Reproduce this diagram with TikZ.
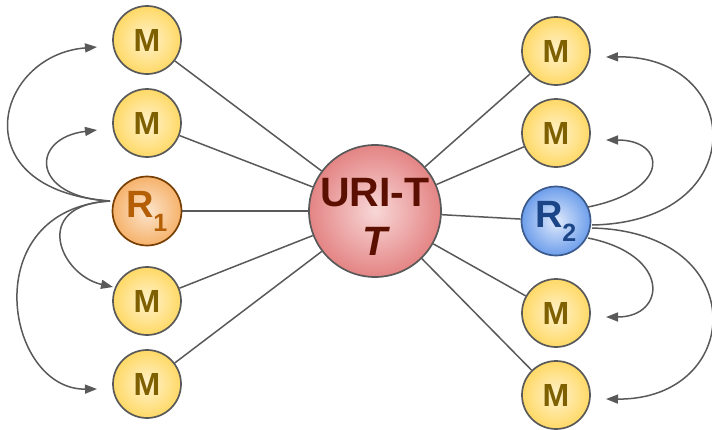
\documentclass[tikz,border=0pt]{standalone}
\usepackage{fontspec}
\setmainfont{Liberation Sans}
\usetikzlibrary{arrows.meta,shadings}
\definecolor{lineg}{HTML}{595959}
\definecolor{mtext}{HTML}{7F6000}
\definecolor{rone}{HTML}{B45F06}
\definecolor{ronebd}{HTML}{783F04}
\definecolor{rtwo}{HTML}{1C4587}
\definecolor{rtwobd}{HTML}{3C5A8C}
\definecolor{ctext}{HTML}{5B0F00}
\tikzset{
  mnode/.style={circle, minimum size=68pt, inner sep=0pt, draw=lineg, line width=1.7pt,
    inner color={rgb,255:red,255;green,242;blue,204}, outer color={rgb,255:red,255;green,217;blue,102},
    text=mtext, font=\bfseries\fontsize{32}{32}\selectfont},
  ronenode/.style={circle, minimum size=69pt, inner sep=0pt, draw=ronebd, line width=1.7pt,
    inner color={rgb,255:red,252;green,229;blue,205}, outer color={rgb,255:red,246;green,178;blue,107},
    text=rone, font=\bfseries\fontsize{38}{40}\selectfont},
  rtwonode/.style={circle, minimum size=69pt, inner sep=0pt, draw=rtwobd, line width=1.7pt,
    inner color={rgb,255:red,224;green,234;blue,252}, outer color={rgb,255:red,109;green,158;blue,235},
    text=rtwo, font=\bfseries\fontsize{38}{40}\selectfont},
  cnode/.style={circle, minimum size=132pt, inner sep=0pt, draw=lineg, line width=1.7pt,
    inner color={rgb,255:red,248;green,215;blue,215}, outer color={rgb,255:red,228;green,132;blue,132}},
  ctextstyle/.style={text=ctext, align=center, font=\bfseries\fontsize{41}{40}\selectfont},
  link/.style={draw=lineg, line width=1.5pt},
  arr/.style={draw=lineg, line width=1.5pt, -{Triangle[length=12pt,width=9pt]}}
}
\newcommand{\subn}[1]{\raisebox{-14pt}{\fontsize{25}{25}\selectfont #1}}
\begin{document}
\begin{tikzpicture}[x=1pt,y=-1pt]
\useasboundingbox (0,0) rectangle (712,429);
% nodes
\node[mnode] (l1) at (147,40) {M};
\node[mnode] (l2) at (147,123) {M};
\node[ronenode] (r1) at (147,211) {R\kern-1pt\subn{1}};
\node[mnode] (l3) at (147,301) {M};
\node[mnode] (l4) at (147,384) {M};
\node[mnode] (q1) at (556,51) {M};
\node[mnode] (q2) at (556,133) {M};
\node[rtwonode] (r2) at (556,221) {R\kern-1pt\subn{2}};
\node[mnode] (q3) at (556,313) {M};
\node[mnode] (q4) at (556,395) {M};
\node[cnode, label={[ctextstyle, yshift=-6pt]center:{URI-T\\[9pt]\itshape T}}] (c) at (375,211) {};
% links
\foreach \n in {l1,l2,r1,l3,l4,q1,q2,r2,q3,q4} \draw[link] (c) -- (\n);
% arrow end points
\coordinate (s1) at (110,201);
\coordinate (e1) at (97,47);
\coordinate (e2) at (97,130);
\coordinate (e3) at (113,287);
\coordinate (e4) at (97,389);
\coordinate (t1) at (588,207);
\coordinate (t2) at (592,225);
\coordinate (t3) at (588,238);
\coordinate (t4) at (592,228);
\coordinate (f1) at (606,57);
\coordinate (f2) at (606,140);
\coordinate (f3) at (606,317);
\coordinate (f4) at (606,399);
% left arrows
\draw[arr] (s1) .. controls +(-150,-11) and +(-102,8) .. (e1);
\draw[arr] (s1) .. controls +(-80,-4) and +(-67,8) .. (e2);
\draw[arr] (s1) .. controls +(-80,4) and +(-53,-12) .. (e3);
\draw[arr] (s1) .. controls +(-135,9) and +(-92,1) .. (e4);
% right arrows
\draw[arr] (t2) .. controls +(162,-3) and +(138,-2) .. (f1);
\draw[arr] (t1) .. controls +(84,-17) and +(60,0) .. (f2);
\draw[arr] (t3) .. controls +(84,17) and +(60,0) .. (f3);
\draw[arr] (t4) .. controls +(162,4) and +(138,1) .. (f4);
\end{tikzpicture}
\end{document}
